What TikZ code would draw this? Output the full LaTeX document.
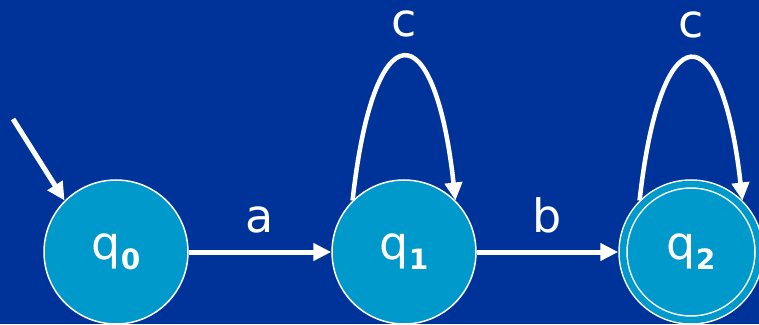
\documentclass[tikz,border=0pt]{standalone}
\usepackage{fontspec}
\setmainfont{DejaVu Sans}
\usetikzlibrary{positioning,arrows.meta}
\definecolor{slideblue}{RGB}{0,51,153}
\definecolor{statecyan}{RGB}{0,153,204}
\newcommand{\statesub}[1]{\raisebox{-10pt}{\fontsize{28}{30}\selectfont\bfseries #1}}

\begin{document}
\begin{tikzpicture}[
  x=1pt, y=1pt,
  every node/.style={font=\fontsize{46}{50}\selectfont, text=white},
  state/.style={circle, draw=white, fill=statecyan, line width=1.5pt,
                minimum size=144pt, inner sep=0pt},
  accept/.style={state, minimum size=136pt, double=statecyan,
                 double distance=6.5pt, outer sep=4.75pt},
  lbl/.style={inner sep=3pt},
  edge/.style={-{Triangle[length=18pt,width=17pt]}, line width=5pt, white},
  selfloop/.style={edge, line width=4.5pt}
]
  \fill[slideblue] (0,0) rectangle (759,324);
  \useasboundingbox (0,0) rectangle (759,324);

  \node[state] (q0) at (116,72) {q\statesub{0}};
  \node[state, on grid, right=288pt of q0] (q1) {q\statesub{1}};
  \node[accept, on grid, right=287pt of q1] (q2) {q\statesub{2}};

  \coordinate[on grid, above left=133pt and 103pt of q0] (init);

  \draw[edge] (init) -- (q0.135);
  \draw[edge] (q0) -- node[lbl, above=13pt] {a} (q1);
  \draw[edge] (q1) -- node[lbl, above=13pt] {b} (q2);

  % self loops
  \draw[selfloop] (q1.135) .. controls +(21,191) and +(-21,191) ..
    node[lbl, above=15pt] {c} (q1.45);
  \draw[selfloop] (q2.135) .. controls +(21,189) and +(-21,189) ..
    node[lbl, above=15pt] {c} (q2.45);
\end{tikzpicture}
\end{document}
